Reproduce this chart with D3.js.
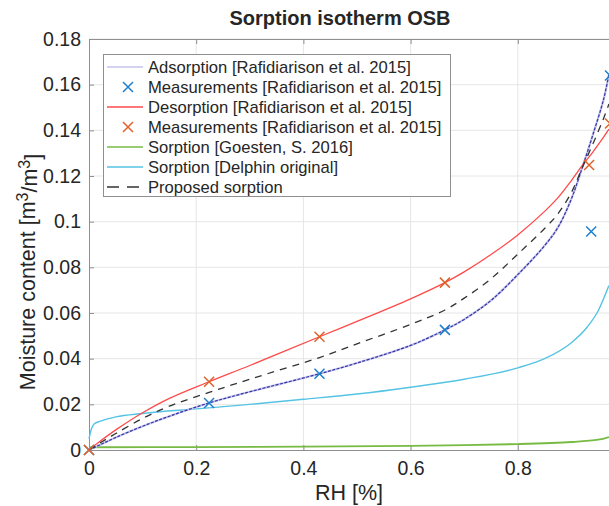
<!DOCTYPE html>
<html><head><meta charset="utf-8">
<script src="https://cdn.jsdelivr.net/npm/d3@7"></script>
<style>body{margin:0;background:#fff}svg{display:block}text{font-family:"Liberation Sans",Arial,sans-serif;fill:#262626}</style>
</head><body><svg id="c" width="609" height="506"></svg>
<script>
const rh = [0, 0.02, 0.05, 0.1, 0.15, 0.224, 0.3, 0.43, 0.5, 0.6, 0.664, 0.7, 0.75, 0.8, 0.85, 0.875, 0.9, 0.92, 0.94, 0.96, 0.97];
const adsorption = [0, 0.0022, 0.0055, 0.0104, 0.0148, 0.0206, 0.0255, 0.0334, 0.0381, 0.0458, 0.0526, 0.0572, 0.0655, 0.0768, 0.0895, 0.0975, 0.11, 0.1235, 0.138, 0.1535, 0.1645];
const desorption = [0, 0.0037, 0.0088, 0.0163, 0.0226, 0.0299, 0.037, 0.0496, 0.0563, 0.0662, 0.0733, 0.078, 0.0856, 0.0942, 0.1045, 0.1105, 0.118, 0.1245, 0.1305, 0.137, 0.1405];
const proposed = [0, 0.003, 0.0072, 0.0138, 0.0192, 0.0252, 0.031, 0.0405, 0.0465, 0.055, 0.0613, 0.0665, 0.075, 0.0858, 0.097, 0.1035, 0.1128, 0.1235, 0.134, 0.1452, 0.1515];
const rhDelphin = [0, 0.005, 0.01, 0.02, 0.05, 0.1, 0.2, 0.3, 0.4, 0.5, 0.6, 0.7, 0.8, 0.85, 0.9, 0.93, 0.95, 0.97];
const delphin = [0.005, 0.0095, 0.0115, 0.0125, 0.0145, 0.016, 0.018, 0.02, 0.0222, 0.0245, 0.0275, 0.031, 0.036, 0.040, 0.047, 0.054, 0.061, 0.072];
const rhGoesten = [0, 0.2, 0.4, 0.6, 0.7, 0.8, 0.9, 0.95, 0.97];
const goesten = [0.0012, 0.0013, 0.0015, 0.0018, 0.0021, 0.0026, 0.0035, 0.0045, 0.0057];
const measRH = [0, 0.224, 0.43, 0.664, 0.937, 0.972];
const measAds = [0, 0.0206, 0.0334, 0.0526, 0.0957, 0.164];
const measDesRH = [0, 0.224, 0.43, 0.664, 0.933, 0.972];
const measDes = [0, 0.0299, 0.0496, 0.0733, 0.1248, 0.143];
const xTicks = [0, 0.2, 0.4, 0.6, 0.8];
const yTicks = [0, 0.02, 0.04, 0.06, 0.08, 0.1, 0.12, 0.14, 0.16, 0.18];
const legendLabels = ["Adsorption [Rafidiarison et al. 2015]", "Measurements [Rafidiarison et al. 2015]", "Desorption [Rafidiarison et al. 2015]", "Measurements [Rafidiarison et al. 2015]", "Sorption [Goesten, S. 2016]", "Sorption [Delphin original]", "Proposed sorption"];

const svg = d3.select("#c");
const x = d3.scaleLinear().domain([0, 1]).range([89, 625]);
const y = d3.scaleLinear().domain([0, 0.18]).range([450, 39]);
const L = x(0), R = x(1), T = y(0.18), B = y(0);

// grid
const g = svg.append("g");
g.selectAll(".gx").data(xTicks.slice(1)).join("line").attr("x1", d => x(d)).attr("x2", d => x(d)).attr("y1", T).attr("y2", B).attr("stroke", "#e6e6e6");
g.selectAll(".gy").data(yTicks.slice(1)).join("line").attr("y1", d => y(d)).attr("y2", d => y(d)).attr("x1", L).attr("x2", R).attr("stroke", "#e6e6e6");

// axes
const ax = svg.append("g").attr("transform", `translate(0,${B})`).call(d3.axisBottom(x).tickValues(xTicks).tickFormat(d3.format("~g")).tickSizeInner(-5).tickSizeOuter(0).tickPadding(11));
const ay = svg.append("g").attr("transform", `translate(${L},0)`).call(d3.axisLeft(y).tickValues(yTicks).tickFormat(d3.format("~g")).tickSizeInner(-5).tickSizeOuter(0).tickPadding(8));
const at = svg.append("g").attr("transform", `translate(0,${T})`).call(d3.axisTop(x).tickValues(xTicks).tickFormat("").tickSizeInner(-5).tickSizeOuter(0));
[ax, ay, at].forEach(a => {
  a.select(".domain").attr("stroke", "#8f8f8f");
  a.selectAll(".tick line").attr("stroke", "#8f8f8f");
  a.selectAll("text").style("font-size", "19.5px").attr("fill", "#262626");
});

// curves
svg.append("defs").append("clipPath").attr("id", "pc").append("rect").attr("x", L - 6).attr("y", T - 6).attr("width", R - L + 12).attr("height", B - T + 12);
const pg = svg.append("g").attr("clip-path", "url(#pc)");
const line = (xs, ys, c) => d3.line().curve(c || d3.curveCatmullRom.alpha(0.5)).x((d, i) => x(xs[i])).y(d => y(d))(ys);

pg.append("path").attr("d", line(rhGoesten, goesten)).attr("fill", "none").attr("stroke", "#77bb44").attr("stroke-width", 1.8);
pg.append("path").attr("d", line(rhDelphin, delphin, d3.curveMonotoneX)).attr("fill", "none").attr("stroke", "#55c3e3").attr("stroke-width", 1.4);
pg.append("path").attr("d", line(rh, adsorption)).attr("fill", "none").attr("stroke", "#c4c4ec").attr("stroke-width", 2.2);
pg.append("path").attr("d", line(rh, adsorption)).attr("fill", "none").attr("stroke", "#3535a3").attr("stroke-width", 1.2).attr("stroke-dasharray", "3,1.5");
pg.append("path").attr("d", line(rh, desorption)).attr("fill", "none").attr("stroke", "#ff4a4a").attr("stroke-width", 1.3);
pg.append("path").attr("d", line(rh, proposed)).attr("fill", "none").attr("stroke", "#333").attr("stroke-width", 1.3).attr("stroke-dasharray", "7,6");

function cross(sel, cx, cy, color, s) {
  sel.append("path").attr("d", `M${cx - s},${cy - s}L${cx + s},${cy + s}M${cx - s},${cy + s}L${cx + s},${cy - s}`).attr("stroke", color).attr("stroke-width", 1.5).attr("fill", "none");
}
measRH.forEach((r, i) => cross(pg, x(r), y(measAds[i]), "#1f7fcc", 5));
measDesRH.forEach((r, i) => cross(pg, x(r), y(measDes[i]), "#e0622a", 5));

// legend
const lg = svg.append("g");
lg.append("rect").attr("x", 103.5).attr("y", 54.5).attr("width", 347).attr("height", 142).attr("fill", "#fff").attr("stroke", "#8f8f8f");
const styles = [
  {t: "line", c: "#c4c4ec"}, {t: "x", c: "#1f7fcc"}, {t: "line", c: "#ff4a4a"}, {t: "x", c: "#e0622a"},
  {t: "line", c: "#77bb44"}, {t: "line", c: "#55c3e3"}, {t: "dash", c: "#333"}
];
legendLabels.forEach((lab, i) => {
  const cy = 67 + i * 20;
  const st = styles[i];
  if (st.t === "x") cross(lg, 128, cy, st.c, 5);
  else lg.append("line").attr("x1", 107).attr("x2", 143).attr("y1", cy).attr("y2", cy).attr("stroke", st.c).attr("stroke-width", 1.3).attr("stroke-dasharray", st.t === "dash" ? "12,8" : null);
  lg.append("text").attr("x", 148).attr("y", cy).attr("dy", "0.35em").style("font-size", "16.6px").text(lab);
});

// title and labels
svg.append("text").attr("x", 340).attr("y", 25).attr("text-anchor", "middle").style("font-size", "20px").style("font-weight", "bold").attr("fill", "#000").text("Sorption isotherm OSB");
svg.append("text").attr("x", 349).attr("y", 500).attr("text-anchor", "middle").style("font-size", "21.5px").text("RH [%]");
const yl = svg.append("text").attr("transform", "translate(35,272) rotate(-90)").attr("text-anchor", "middle").style("font-size", "21.5px");
yl.append("tspan").text("Moisture content [m");
yl.append("tspan").attr("dy", "-0.45em").style("font-size", "16px").text("3");
yl.append("tspan").attr("dy", "0.45em").text("/m");
yl.append("tspan").attr("dy", "-0.45em").style("font-size", "16px").text("3");
yl.append("tspan").attr("dy", "0.45em").text("]");
</script></body></html>
